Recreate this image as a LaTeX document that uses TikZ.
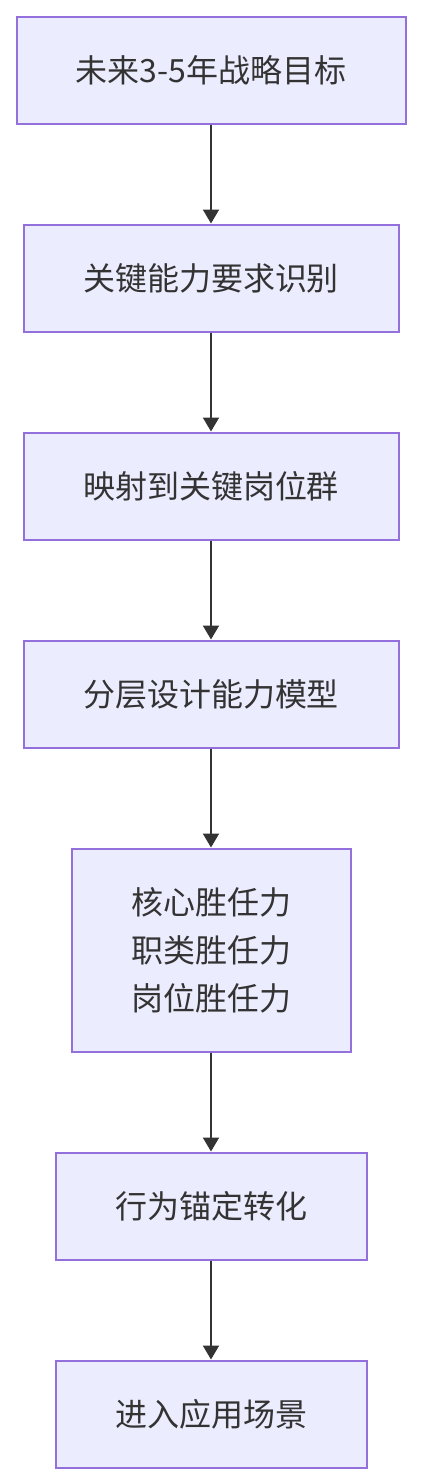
\documentclass[tikz,border=0pt]{standalone}
\usepackage{fontspec}
\setmainfont{Noto Sans CJK SC}
\usetikzlibrary{arrows.meta}
\definecolor{boxfill}{HTML}{ECECFF}
\definecolor{boxline}{HTML}{9370DB}
\definecolor{txt}{HTML}{333333}
\tikzset{
  stepbox/.style={draw=boxline, fill=boxfill, line width=2pt, inner sep=0pt,
    text=txt, font=\fontsize{32pt}{48pt}\selectfont, align=center},
  flow/.style={draw=txt, line width=2pt, -{Triangle[length=14pt,width=16pt]}}
}
\begin{document}
\begin{tikzpicture}[x=1pt,y=-1pt]
\useasboundingbox (0,0) rectangle (421,1484);
\node[stepbox, minimum width=389pt, minimum height=107pt] (a) at (211,70) {未来3-5年战略目标};
\node[stepbox, minimum width=375pt, minimum height=107pt] (b) at (211,278) {关键能力要求识别};
\node[stepbox, minimum width=375pt, minimum height=107pt] (c) at (211,486) {映射到关键岗位群};
\node[stepbox, minimum width=375pt, minimum height=107pt] (d) at (211,694) {分层设计能力模型};
\node[stepbox, minimum width=279pt, minimum height=203pt] (e) at (211,950) {核心胜任力\\职类胜任力\\岗位胜任力};
\node[stepbox, minimum width=311pt, minimum height=107pt] (f) at (211,1206) {行为锚定转化};
\node[stepbox, minimum width=311pt, minimum height=107pt] (g) at (211,1414) {进入应用场景};
\draw[flow] (a) -- (b);
\draw[flow] (b) -- (c);
\draw[flow] (c) -- (d);
\draw[flow] (d) -- (e);
\draw[flow] (e) -- (f);
\draw[flow] (f) -- (g);
\end{tikzpicture}
\end{document}
